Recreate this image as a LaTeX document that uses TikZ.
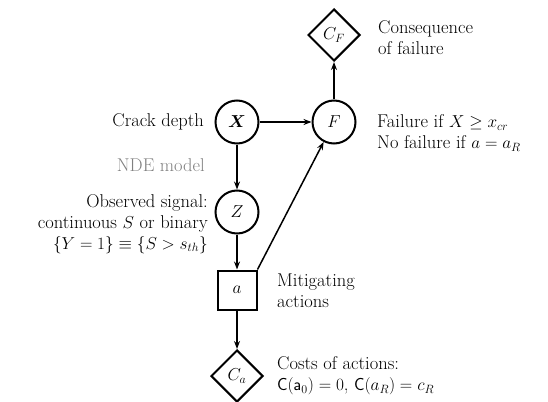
\documentclass[tikz,border=0pt]{standalone}
\usepackage{bm}
\usetikzlibrary{shapes.geometric,arrows.meta}
\begin{document}
\begin{tikzpicture}
          [x=1pt,y=-1pt,>={Stealth[length=8pt,width=6pt]},
           every node/.style={font=\fontsize{18.5}{21}\selectfont},
           chance/.style={draw, circle, line width=2pt, inner sep=0pt, minimum size=43pt},
           decision/.style={draw, rectangle, line width=2pt, inner sep=0pt, minimum size=39pt},
           utility/.style={draw, diamond, line width=2pt, inner sep=0pt, minimum size=52pt},
           lefttext/.style={anchor=west, align=left, inner sep=0pt},
           righttext/.style={anchor=east, align=right, inner sep=0pt}]
        \useasboundingbox (0,0) rectangle (548,401);

        \node[utility] (cf) at (334,35) {$C_F$};
        \node[chance] (f) at (334,122) {$F$};
        \node[chance] (x) at (237,122) {$\bm{X}$};
        \node[chance] (z) at (237,212) {$Z$};
        \node[decision] (a) at (237,290) {$a$};
        \node[utility] (ca) at (237,376) {$C_a$};

        \node[lefttext] (tcf) at (378,38) {Consequence\\of failure};
        \node[righttext] (tx) at (204,122) {Crack depth};
        \node[righttext, text=gray] (tnde) at (205,165) {NDE model};
        \node[righttext] (tz) at (208,224) {Observed signal:\\continuous $S$ or binary\\$\{Y=1\}\equiv\{S>s_{th}\}$};
        \node[lefttext] (tf) at (377,133) {Failure if $X\geq x_{cr}$\\No failure if $a=a_R$};
        \node[lefttext] (ta) at (277,291) {Mitigating\\actions};
        \node[lefttext] (tca) at (277,376) {Costs of actions:\\$\mathsf{C}(\mathsf{a}_0)=0$, $\mathsf{C}(a_R)=c_R$};

        \foreach \from/\to in {x/f, f/cf, x/z, z/a, a/ca}
          \draw[->, line width=1.5pt] (\from) -- (\to);

        \draw[->, line width=1.5pt] (a.north east) -- (f);
      \end{tikzpicture}
\end{document}
